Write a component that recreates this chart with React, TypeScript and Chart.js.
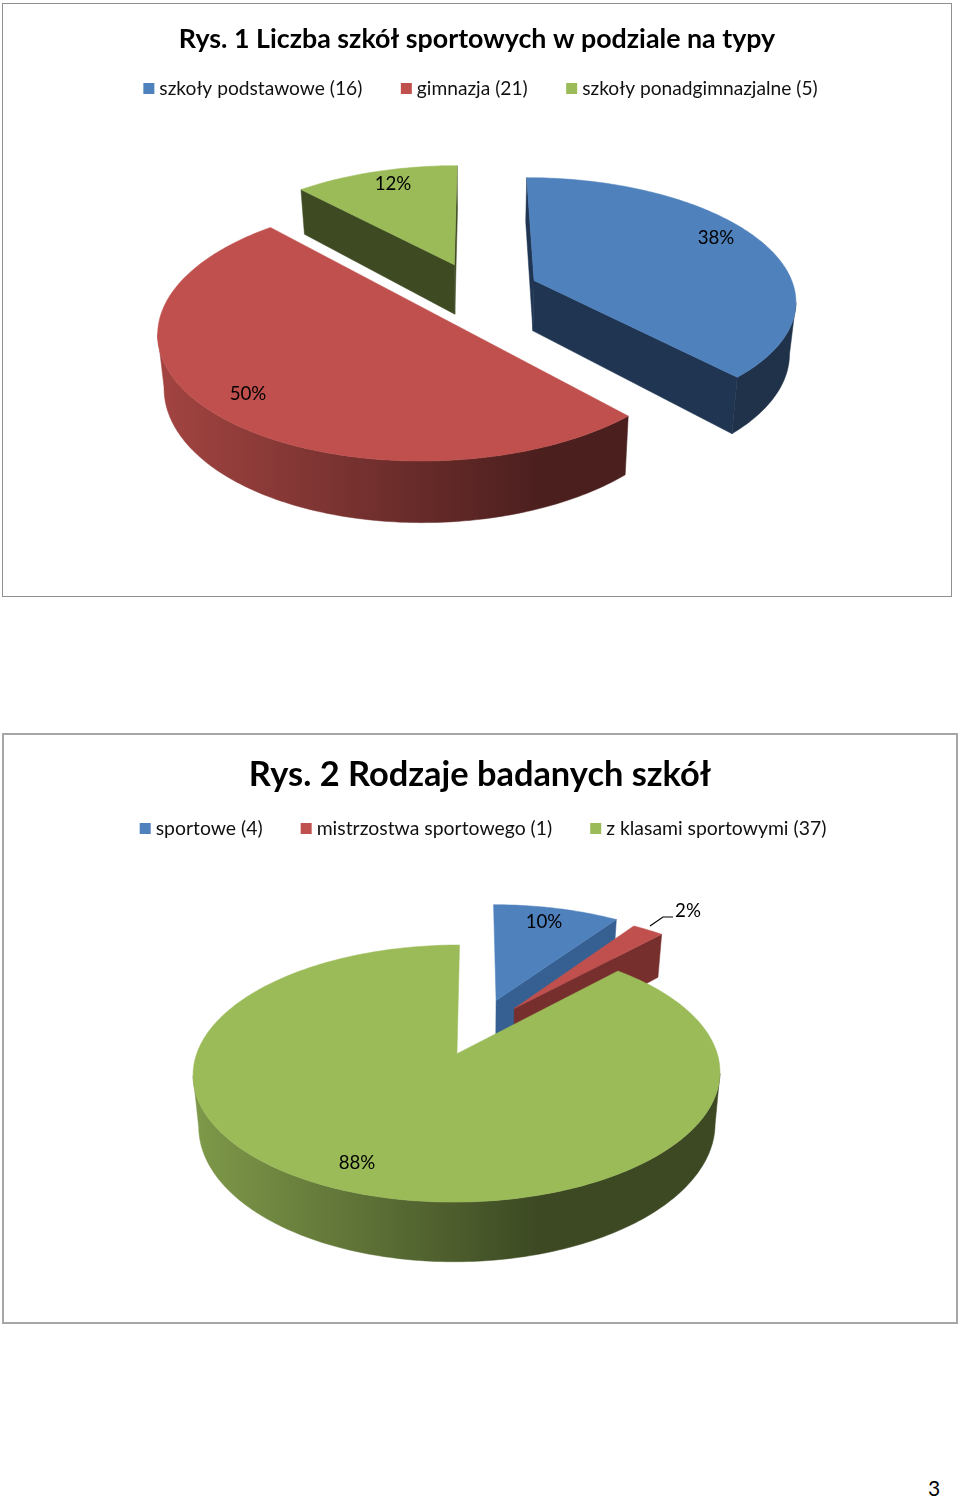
import React, { useEffect, useRef } from "react";
import { Chart, registerables } from "chart.js";

Chart.register(...registerables);

const FONT = "Lato, 'Noto Sans', sans-serif";

const title1 = "Rys. 1 Liczba szkół sportowych w podziale na typy";
const categories1 = ["szkoły podstawowe (16)", "gimnazja (21)", "szkoły ponadgimnazjalne (5)"];
const values1 = [16, 21, 5];
const explode1 = [24, 24, 24];

const title2 = "Rys. 2 Rodzaje badanych szkół";
const categories2 = ["sportowe (4)", "mistrzostwa sportowego (1)", "z klasami sportowymi (37)"];
const values2 = [4, 1, 37];
const explode2 = [28, 25, 20];

const sliceColors = ["#4f81bd", "#c0504d", "#9bbb59"];
const cutColors1 = ["#1f3552", "#772f2d", "#3e4a22"];
const cutColors2 = ["#376092", "#772f2d", "#3e4a22"];

function shade(hex: string, f: number) {
  const n = parseInt(hex.slice(1), 16);
  const r = Math.round(((n >> 16) & 255) * f);
  const g = Math.round(((n >> 8) & 255) * f);
  const b = Math.round((n & 255) * f);
  return `rgb(${r},${g},${b})`;
}

const pie3d = {
  id: "pie3d",
  beforeDatasetsDraw(chart: any, _a: any, o: any) {
    const ctx = chart.ctx;
    const meta = chart.getDatasetMeta(0);
    const colors = chart.data.datasets[0].backgroundColor;
    const P = (u: number, v: number, z: number) => {
      const s = 1 / (1 - o.persp * v);
      const zs = 1 - o.taper * z;
      return [o.cx + o.rx * u * s * zs, o.cy + (o.ry * v + o.depth * z) * s];
    };
    const poly = (pts: number[][], fill: any) => {
      ctx.beginPath();
      pts.forEach((p, i) => (i ? ctx.lineTo(p[0], p[1]) : ctx.moveTo(p[0], p[1])));
      ctx.closePath();
      ctx.fillStyle = fill;
      ctx.strokeStyle = fill;
      ctx.lineWidth = 0.5;
      ctx.fill();
      ctx.stroke();
    };
    meta.data.forEach((el: any, i: number) => {
      const { startAngle, endAngle } = el.getProps(["startAngle", "endAngle"], true);
      const mid = (startAngle + endAngle) / 2;
      const e = el.options.offset / 100;
      const u0 = e * Math.cos(mid);
      const v0 = e * Math.sin(mid);
      const steps = Math.max(2, Math.ceil(((endAngle - startAngle) * 180) / Math.PI));
      const rim: number[][] = [];
      for (let k = 0; k <= steps; k++) {
        const a = startAngle + ((endAngle - startAngle) * k) / steps;
        rim.push([u0 + Math.cos(a), v0 + Math.sin(a)]);
      }
      const apexT = P(u0, v0, 0);
      const apexB = P(u0, v0, 1);
      const first = rim[0];
      const last = rim[rim.length - 1];
      const firstT = P(first[0], first[1], 0);
      const lastT = P(last[0], last[1], 0);
      if (firstT[0] < apexT[0] - o.faceMin) {
        poly([apexT, firstT, P(first[0], first[1], 1), apexB], o.cutColors[i]);
      }
      if (lastT[0] > apexT[0] + o.faceMin) {
        poly([apexT, lastT, P(last[0], last[1], 1), apexB], o.cutColors[i]);
      }
      const g = ctx.createLinearGradient(o.cx - o.rx * 1.25, 0, o.cx + o.rx * 1.25, 0);
      const col = colors[i];
      g.addColorStop(0, shade(col, 0.86));
      g.addColorStop(0.6, shade(col, 0.39));
      g.addColorStop(1, shade(col, 0.39));
      let run: number[][] = [];
      const flush = () => {
        if (run.length > 1) {
          const top = run.map((p) => P(p[0], p[1], 0));
          const bottom = run.map((p) => P(p[0], p[1], 1)).reverse();
          poly([...top, ...bottom], g);
        }
        run = [];
      };
      for (let k = 0; k < steps; k++) {
        const t1 = P(rim[k][0], rim[k][1], 0);
        const t2 = P(rim[k + 1][0], rim[k + 1][1], 0);
        if (t2[0] < t1[0]) {
          if (!run.length) run.push(rim[k]);
          run.push(rim[k + 1]);
        } else {
          flush();
        }
      }
      flush();
      poly([apexT, ...rim.map((p) => P(p[0], p[1], 0))], col);
    });
    const data = chart.data.datasets[0].data;
    const total = data.reduce((a: number, b: number) => a + b, 0);
    ctx.font = `${o.labelSize}px ${FONT}`;
    ctx.fillStyle = "#000";
    ctx.textAlign = "center";
    ctx.textBaseline = "middle";
    data.forEach((val: number, i: number) => {
      const [x, y] = o.labelPos[i];
      ctx.fillText(Math.round((val / total) * 100) + "%", x, y);
    });
    if (o.leader) {
      ctx.beginPath();
      o.leader.forEach((p: number[], i: number) => (i ? ctx.lineTo(p[0], p[1]) : ctx.moveTo(p[0], p[1])));
      ctx.strokeStyle = "#000";
      ctx.lineWidth = 1.2;
      ctx.stroke();
    }
    return false;
  },
  afterDraw(chart: any, _a: any, o: any) {
    const ctx = chart.ctx;
    const labels: string[] = chart.data.labels;
    const colors = chart.data.datasets[0].backgroundColor;
    ctx.save();
    ctx.font = `${o.legendSize}px ${FONT}`;
    ctx.textAlign = "left";
    ctx.textBaseline = "middle";
    const widths = labels.map((l) => ctx.measureText(l).width + 16);
    const totalW = widths.reduce((a, b) => a + b, 0) + o.legendGap * (labels.length - 1);
    let x = o.legendCx - totalW / 2;
    labels.forEach((l, i) => {
      ctx.fillStyle = colors[i];
      ctx.fillRect(x, o.legendY - 5.5, 11, 11);
      ctx.fillStyle = "#111";
      ctx.fillText(l, x + 16, o.legendY);
      x += widths[i] + o.legendGap;
    });
    ctx.restore();
  },
};

function Pie({ box, borderWidth, borderColor, title, titleSize, titleTop, labels, values, explode, opts }: any) {
  const ref = useRef<HTMLCanvasElement>(null);
  useEffect(() => {
    const chart = new Chart(ref.current as HTMLCanvasElement, {
      type: "pie",
      data: {
        labels,
        datasets: [{ data: values, backgroundColor: sliceColors, offset: explode, borderWidth: 0 }],
      },
      plugins: [pie3d],
      options: {
        animation: false,
        responsive: false,
        devicePixelRatio: 1,
        layout: { padding: 0 },
        plugins: {
          legend: { display: false },
          tooltip: { enabled: false },
          title: {
            display: true,
            text: title,
            color: "#000",
            font: { family: FONT, size: titleSize, weight: "bold" },
            padding: { top: titleTop, bottom: 10 },
          },
          pie3d: opts,
        },
      } as any,
    });
    return () => chart.destroy();
  }, []);
  return (
    <div
      style={{
        position: "absolute",
        left: box.x,
        top: box.y,
        width: box.w,
        height: box.h,
        boxSizing: "border-box",
        border: `${borderWidth}px solid ${borderColor}`,
        background: "#fff",
      }}
    >
      <canvas
        ref={ref}
        width={box.w}
        height={box.h}
        style={{ position: "absolute", left: -borderWidth, top: -borderWidth, width: box.w, height: box.h }}
      />
    </div>
  );
}

export default function App() {
  const b1 = { x: 2, y: 3, w: 950, h: 594 };
  const b2 = { x: 2, y: 733, w: 956, h: 591 };
  const o1 = {
    cx: 476.5 - b1.x, cy: 291 - b1.y, rx: 261, ry: 121, persp: 0.148, depth: 51, taper: 0.02, faceMin: 0.5,
    cutColors: cutColors1,
    labelSize: 18.7,
    labelPos: [[716 - b1.x, 238 - b1.y], [248 - b1.x, 394 - b1.y], [393 - b1.x, 184 - b1.y]],
    legendSize: 19.2, legendGap: 38.5, legendCx: 480.5 - b1.x, legendY: 88.5 - b1.y,
  };
  const o2 = {
    cx: 476 - b2.x, cy: 1031 - b2.y, rx: 253, ry: 118.6, persp: 0.15, depth: 49, taper: 0.02, faceMin: 3,
    cutColors: cutColors2,
    labelSize: 18.7,
    labelPos: [[544 - b2.x, 922 - b2.y], [688 - b2.x, 911 - b2.y], [357 - b2.x, 1163 - b2.y]],
    leader: [[650 - b2.x, 926 - b2.y], [663 - b2.x, 917 - b2.y], [673 - b2.x, 917 - b2.y]],
    legendSize: 19.4, legendGap: 38, legendCx: 483 - b2.x, legendY: 828.5 - b2.y,
  };
  return (
    <div style={{ position: "absolute", left: 0, top: 0, width: 960, height: 1498, background: "#fff" }}>
      <Pie box={b1} borderWidth={1} borderColor="#8f8f8f" title={title1} titleSize={26.8} titleTop={20}
        labels={categories1} values={values1} explode={explode1} opts={o1} />
      <Pie box={b2} borderWidth={2} borderColor="#a6a6a6" title={title2} titleSize={34.4} titleTop={21}
        labels={categories2} values={values2} explode={explode2} opts={o2} />
      <div style={{ position: "absolute", left: 928, top: 1476, fontFamily: FONT, fontSize: 21, lineHeight: "24px", color: "#000" }}>3</div>
    </div>
  );
}
